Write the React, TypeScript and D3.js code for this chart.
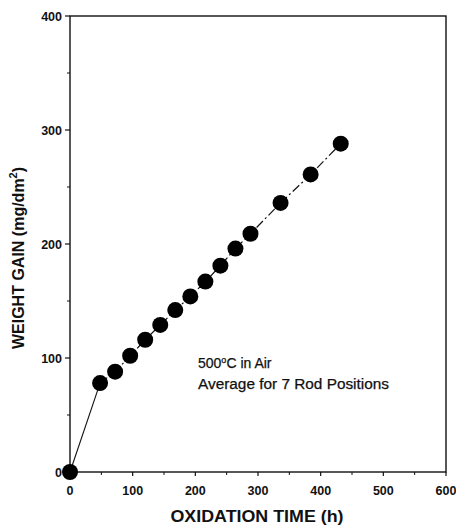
import React from 'react';
import * as d3 from 'd3';

// oxidation time (h) and average weight gain (mg/dm2)
const hours = [0, 48, 72, 96, 120, 144, 168, 192, 216, 240, 264, 288, 336, 384, 432];
const gain = [0, 78, 88, 102, 116, 129, 142, 154, 167, 181, 196, 209, 236, 261, 288];
const xTicks = [0, 100, 200, 300, 400, 500, 600];
const yTicks = [0, 100, 200, 300, 400];
const notes = ['500°C in Air', 'Average for 7 Rod Positions'];

const W = 456;
const H = 531;
const m = { left: 70, top: 16, right: 10, bottom: 59 };
const font = '"Liberation Sans", Arial, sans-serif';

export default function App() {
  const x = d3.scaleLinear().domain([0, 600]).range([m.left, W - m.right]);
  const y = d3.scaleLinear().domain([0, 400]).range([H - m.bottom, m.top]);
  const pts = hours.map((h, i) => [h, gain[i]] as [number, number]);
  const line = d3.line<[number, number]>().x(d => x(d[0])).y(d => y(d[1]));
  const xMinor = d3.range(50, 600, 100);
  const yMinor = d3.range(50, 400, 100);

  return (
    <svg width={W} height={H} style={{ position: 'absolute', left: 0, top: 0 }}>
      <rect width={W} height={H} fill="#fff" />
      {/* frame */}
      <rect x={x(0)} y={y(400)} width={x(600) - x(0)} height={y(0) - y(400)}
        fill="none" stroke="#111" strokeWidth={1.4} />

      {/* x ticks */}
      {xTicks.map(t => (
        <g key={'x' + t}>
          <line x1={x(t)} x2={x(t)} y1={y(0)} y2={y(0) + 4} stroke="#111" strokeWidth={1.2} />
          <text x={x(t)} y={y(0) + 23} textAnchor="middle" fontFamily={font}
            fontWeight="bold" fontSize={12.5} fill="#111">{t}</text>
        </g>
      ))}
      {xMinor.map(t => (
        <line key={'xm' + t} x1={x(t)} x2={x(t)} y1={y(0)} y2={y(0) + 3} stroke="#111" strokeWidth={1} />
      ))}

      {/* y ticks */}
      {yTicks.map(t => (
        <g key={'y' + t}>
          <line x1={x(0) - 5} x2={x(0)} y1={y(t)} y2={y(t)} stroke="#111" strokeWidth={1.2} />
          <text x={x(0) - 8} y={y(t) + 4.5} textAnchor="end" fontFamily={font}
            fontWeight="bold" fontSize={12.5} fill="#111">{t}</text>
        </g>
      ))}
      {yMinor.map(t => (
        <line key={'ym' + t} x1={x(0) - 3} x2={x(0)} y1={y(t)} y2={y(t)} stroke="#111" strokeWidth={1} />
      ))}

      {/* axis titles */}
      <text x={257} y={522} textAnchor="middle" fontFamily={font} fontWeight="bold"
        fontSize={17} fill="#111" textLength={173} lengthAdjust="spacingAndGlyphs">OXIDATION TIME (h)</text>
      <text transform={`translate(24,258) rotate(-90)`} textAnchor="middle"
        fontFamily={font} fontWeight="bold" fontSize={16} fill="#111">
        WEIGHT GAIN (mg/dm<tspan dy={-7} fontSize={11}>2</tspan><tspan dy={7}>)</tspan>
      </text>

      {/* connecting lines */}
      <path d={line(pts.slice(0, 2)) ?? ''} fill="none" stroke="#111" strokeWidth={1.1} />
      <path d={line(pts.slice(1)) ?? ''} fill="none" stroke="#111" strokeWidth={1.2}
        strokeDasharray="9,3,2,3" />

      {/* markers */}
      {pts.map((p, i) => (
        <circle key={i} cx={x(p[0])} cy={y(p[1])} r={8} fill="#000" />
      ))}

      {/* annotation */}
      {notes.map((n, i) => (
        <text key={n} x={198} y={367.5 + i * 21} fontFamily={font} fontSize={14}
          fill="#111" stroke="#111" strokeWidth={0.25}
          {...(i === 1 ? { textLength: 191, lengthAdjust: 'spacingAndGlyphs' } : {})}>
          {i === 0 ? <>500<tspan dy={-5} fontSize={9}>o</tspan><tspan dy={5}>C in Air</tspan></> : n}</text>
      ))}
    </svg>
  );
}
